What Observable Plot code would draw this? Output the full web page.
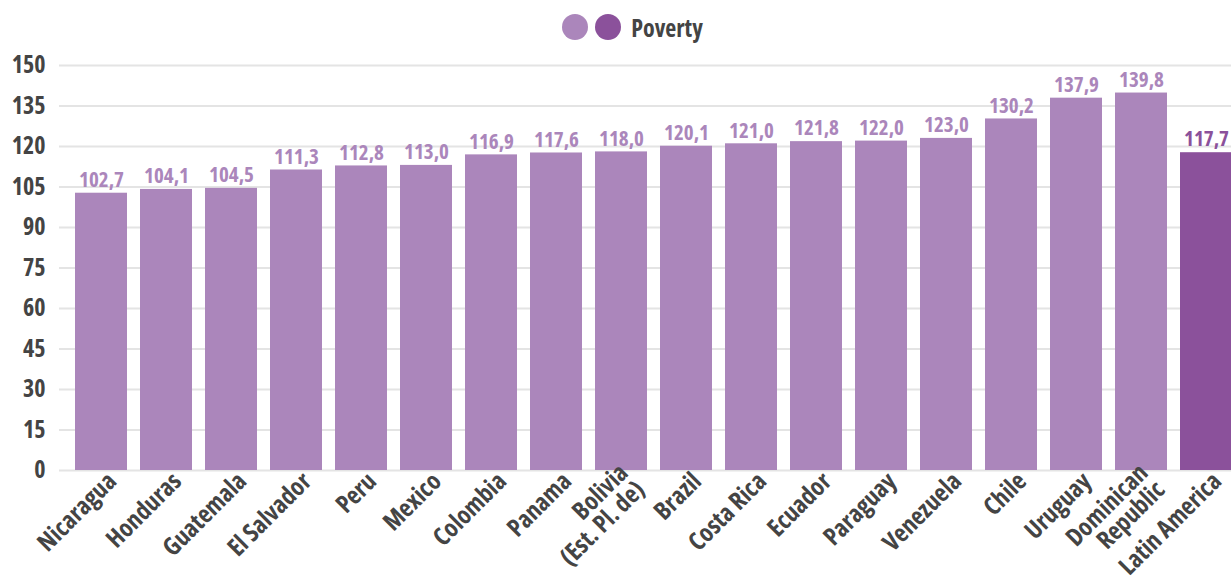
<!DOCTYPE html>
<html><head><meta charset="utf-8">
<script src="https://cdn.jsdelivr.net/npm/d3@7"></script>
<script src="https://cdn.jsdelivr.net/npm/@observablehq/plot@0.6"></script>
<style>
body{margin:0;background:#fff;font-family:"Open Sans","Liberation Sans Narrow",sans-serif;font-stretch:condensed;}
#legend{height:45px;box-sizing:border-box;padding-top:9px;display:flex;align-items:center;justify-content:center;gap:7px;font-weight:bold;font-size:24px;color:#444;padding-left:34px;}
.dot{width:26px;height:26px;border-radius:50%;display:inline-block;}
</style></head>
<body>
<div id="legend"><span class="dot" style="background:#ab86bb"></span><span class="dot" style="background:#8b519b"></span><span style="margin-left:3px">Poverty</span></div>
<div id="chart"></div>
<script>
const countries = ["Nicaragua","Honduras","Guatemala","El Salvador","Peru","Mexico","Colombia","Panama","Bolivia\n(Est. Pl. de)","Brazil","Costa Rica","Ecuador","Paraguay","Venezuela","Chile","Uruguay","Dominican\nRepublic","Latin America"];
const values = [102.7,104.1,104.5,111.3,112.8,113.0,116.9,117.6,118.0,120.1,121.0,121.8,122.0,123.0,130.2,137.9,139.8,117.7];
const yTicks = [0,15,30,45,60,75,90,105,120,135,150];
const aggregate = "Latin America";

const data = countries.map((c,i)=>({country:c, value:values[i], agg:c===aggregate}));
const fmt = v => v.toFixed(1).replace(".", ",");
const font = `"Open Sans","Liberation Sans Narrow",sans-serif`;

const chart = Plot.plot({
  width:1231, height:536,
  marginTop:20, marginLeft:59, marginRight:0, marginBottom:111,
  style:{fontFamily:font, fontWeight:"bold", fontStretch:"condensed", fontSize:"20px", color:"#444", overflow:"hidden"},
  x:{domain:countries, range:[60,1247], padding:0.2, label:null},
  y:{domain:[0,150], label:null},
  marks:[
    Plot.gridY(yTicks,{stroke:"#e4e4e4", strokeOpacity:1, strokeWidth:2}),
    Plot.barY(data,{x:"country", y:"value", fill:d=>d.agg?"#8b519b":"#ab86bb"}),
    Plot.text(data,{x:"country", y:"value", text:d=>fmt(d.value), dy:-13, fill:d=>d.agg?"#8b519b":"#ab86bb", fontSize:21, fontWeight:"bold"}),
    Plot.axisY({ticks:yTicks, tickSize:0, tickPadding:14, fontSize:24, fill:"#444", label:null}),
    Plot.axisX({tickSize:0, tickPadding:7, dx:11, tickRotate:-45, fontSize:25, fill:"#444", label:null, lineHeight:0.95})
  ]
});
document.getElementById("chart").appendChild(chart);
</script>
</body></html>
